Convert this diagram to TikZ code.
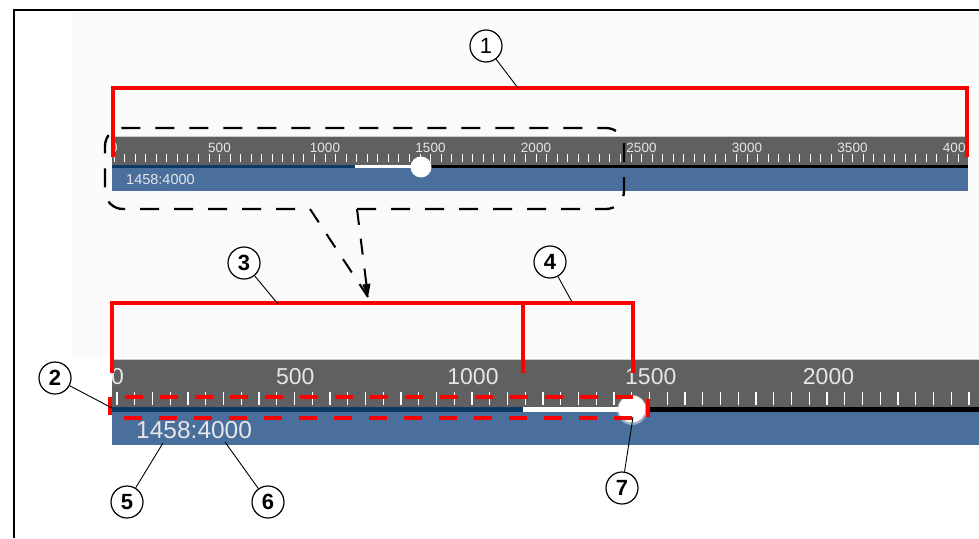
\documentclass[tikz,border=0pt]{standalone}
\usepackage{fontspec}
\setmainfont{Liberation Sans}
\usetikzlibrary{arrows.meta,calc}
\definecolor{bargray}{HTML}{606060}
\definecolor{barblue}{HTML}{4A6F9C}
\definecolor{barnavy}{HTML}{0B3A66}
\definecolor{lbl}{HTML}{E6E6E6}
\definecolor{redc}{HTML}{FF0000}
\definecolor{bgl}{HTML}{FAFAFA}
\tikzset{
  callout/.style={circle,draw=black,line width=1.2pt,fill=white,minimum size=32pt,inner sep=0pt,
    font=\fontsize{22}{22}\selectfont\bfseries},
  lead/.style={draw=black,line width=0.9pt},
  redline/.style={draw=redc,line width=4pt,line join=miter},
  reddash/.style={draw=redc,line width=4pt,dash pattern=on 18pt off 17pt},
  blackdash/.style={draw=black,line width=2.3pt,dash pattern=on 19pt off 15pt},
  funnel/.style={draw=black,line width=2pt,dash pattern=on 16pt off 14pt},
  toplbl/.style={text=lbl,font=\fontsize{13.5}{13.5}\selectfont,inner sep=0pt},
  botlbl/.style={text=lbl,font=\fontsize{23}{23}\selectfont,inner sep=0pt},
  toptick/.style={draw=white,line width=0.9pt},
  bottick/.style={draw=white,line width=1.4pt},
}
\begin{document}
\begin{tikzpicture}[x=1pt,y=-1pt]
\useasboundingbox (0,0) rectangle (979,538);
\fill[white] (0,0) rectangle (979,538);
\fill[bgl] (72,12) rectangle (979,357);
\draw[line width=2pt] (14,538) -- (14,10) -- (979,10);

% ---------- top bar ----------
\fill[bargray] (112,136) rectangle (968,166);
\draw[gray!40,line width=0.8pt] (112,136.4) -- (968,136.4);
\foreach \k in {0,...,80} \draw[toptick] ({114+\k*10.55},154) -- ++(0,8);
\begin{scope}
  \clip (112,136) rectangle (968,166);
  \foreach \v in {0,500,...,4000} \node[toplbl] at ({114+\v*0.211},148) {\v};
\end{scope}
\fill[barblue] (112,168) rectangle (968,191);
\draw[barnavy,line width=3pt] (112,166.5) -- (355,166.5);
\draw[white,line width=3pt] (355,166.5) -- (421,166.5);
\draw[black,line width=3pt] (421,166.5) -- (968,166.5);
\fill[white] (421,167) circle (10.5);
\node[text=lbl,font=\fontsize{14.5}{14.5}\selectfont,inner sep=0pt,anchor=west] (toptext) at (126,180) {1458:4000};

% ---------- bottom bar ----------
\fill[bargray] (112,359) rectangle (979,407);
\draw[gray!40,line width=0.8pt] (112,359.4) -- (979,359.4);
\foreach \k in {0,...,48} \draw[bottick] ({117+\k*17.75},392) -- ++(0,13);
\begin{scope}
  \clip (112,359) rectangle (979,407);
  \foreach \v in {0,500,...,2500} \node[botlbl] at ({117.5+\v*0.3555},377) {\v};
\end{scope}
\fill[barblue] (112,412) rectangle (979,445);
\draw[barnavy,line width=5pt] (112,409.5) -- (523,409.5);
\draw[white,line width=4pt] (523,409.5) -- (632,409.5);
\draw[black,line width=5pt] (632,409.5) -- (979,409.5);
\fill[white!85!gray,opacity=0.5] (632,410) circle (15);
\fill[white] (632,409) circle (13.5);
\node[text=lbl,font=\fontsize{24.5}{24.5}\selectfont,inner sep=0pt,anchor=west] (bottext) at (136,430) {1458:4000};

% ---------- red highlights ----------
\draw[redline] (113,157) -- (113,88) -- (967,88) -- (967,157);
\draw[redline] (112,373) -- (112,303) -- (633,303) -- (633,373);
\draw[redline] (523,303) -- (523,373);
\draw[reddash] (110,397) rectangle (648,418);

% ---------- dashed zoom frame ----------
\coordinate (fl) at (310,209);
\coordinate (fr) at (357,209);
\coordinate (tip) at (368,297);
\draw[blackdash,rounded corners=18pt] (fr) -- (624,209) -- (624,128) -- (105,128) -- (105,209) -- (fl);
\draw[funnel] (fl) -- (tip);
\draw[funnel] (fr) -- ($(fr)!0.97!(tip)$);
\draw[black,line width=1pt,-{Triangle[length=13pt,width=8pt]}] ($(fr)!0.8!(tip)$) -- (tip);

% ---------- callouts ----------
\coordinate (p1) at (518,88);
\coordinate (p2) at (112,408);
\coordinate (p3) at (278,304);
\coordinate (p4) at (572,302);
\coordinate (p5) at (163,443);
\coordinate (p6) at (225,442);
\coordinate (p7) at (633,417);
\node[callout,font=\fontsize{22}{22}\selectfont] (c1) at (486,46) {1};
\node[callout] (c2) at (55,378) {2};
\node[callout] (c3) at (244,263) {3};
\node[callout] (c4) at (550,262) {4};
\node[callout] (c5) at (127,502) {5};
\node[callout] (c6) at (268,502) {6};
\node[callout] (c7) at (622,488) {7};
\draw[lead] (c1) -- (p1);
\draw[lead] (c2) -- (p2);
\draw[lead] (c3) -- (p3);
\draw[lead] (c4) -- (p4);
\draw[lead] (c5) -- (p5);
\draw[lead] (c6) -- (p6);
\draw[lead] (c7) -- (p7);
\end{tikzpicture}
\end{document}
